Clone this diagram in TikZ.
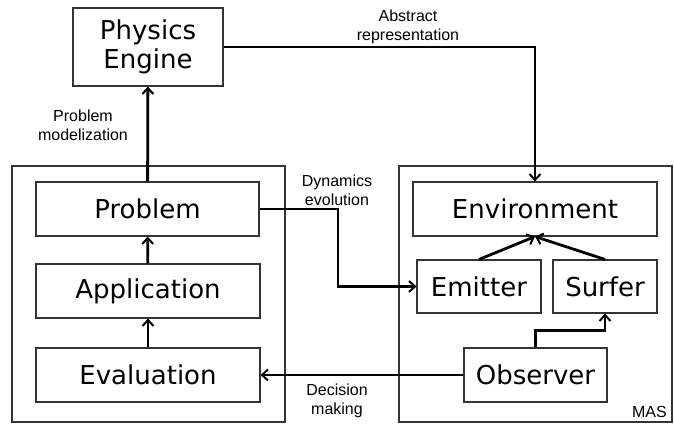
\documentclass[tikz,border=0pt]{standalone}
\usepackage{fontspec}
\setmainfont{Liberation Sans}
\newfontfamily\boxfont{DejaVu Sans}
\usetikzlibrary{arrows.meta,positioning}

\begin{document}
\begin{tikzpicture}[x=1pt, y=-1pt,
    block/.style={rectangle, draw=black!80, line width=1.1pt, inner sep=0pt, font=\boxfont\fontsize{26}{29}\selectfont, align=center},
    frame/.style={rectangle, draw=black!80, line width=1.1pt, inner sep=0pt},
    lbl/.style={font=\fontsize{16}{19}\selectfont, align=center, inner sep=0pt},
    arrow/.style={-{Straight Barb[length=6pt, width=11pt, line width=2pt]}, line width=2.8pt}]

    \useasboundingbox (0,0) rectangle (674,423);

    % left frame
    \node[frame, minimum width=273, minimum height=256] (app) at (148.5,294) {};
    \node[block, minimum width=150, minimum height=78] (physics) at (148,47) {Physics\\Engine};
    \node[block, minimum width=223, minimum height=54] (problem) at (147.5,209) {Problem};
    \node[block, minimum width=224, minimum height=54] (application) at (148,291) {Application};
    \node[block, minimum width=224, minimum height=54] (evaluation) at (148,375) {Evaluation};

    % right frame (MAS)
    \node[frame, minimum width=273, minimum height=256] (mas) at (535.5,294) {};
    \node[lbl, anchor=south east] (maslabel) at (667,418) {MAS};
    \node[block, minimum width=244, minimum height=54] (environment) at (535,209) {Environment};
    \node[block, minimum width=124, minimum height=53] (emitter) at (479,286.5) {Emitter};
    \node[block, minimum width=104, minimum height=53] (surfer) at (605,286.5) {Surfer};
    \node[block, minimum width=143, minimum height=54] (observer) at (535.5,375) {Observer};

    % labels
    \node[lbl] (modelization) at (83,125) {Problem\\modelization};
    \node[lbl] (abstract) at (408,27) {Abstract\\representation};
    \node[lbl] (dynamics) at (337,190) {Dynamics\\evolution};
    \node[lbl] (decision) at (337,401) {Decision\\making};
    \coordinate (bend) at (338,250);

    \draw[arrow] (problem) -- (physics);
    \draw[arrow] (application) -- (problem);
    \draw[arrow] (evaluation) -- (application);
    \draw[arrow] (physics.east) -| (environment.north);
    \draw[arrow] (problem.east) -| (bend) |- (emitter.west);
    \draw[arrow] (emitter.north) -- (environment.south);
    \draw[arrow] (surfer.north) -- (environment.south);
    \draw[arrow] (observer.north) -- ++(0,-17) -| (surfer.south);
    \draw[arrow] (observer.west) -- (evaluation.east);
\end{tikzpicture}
\end{document}
